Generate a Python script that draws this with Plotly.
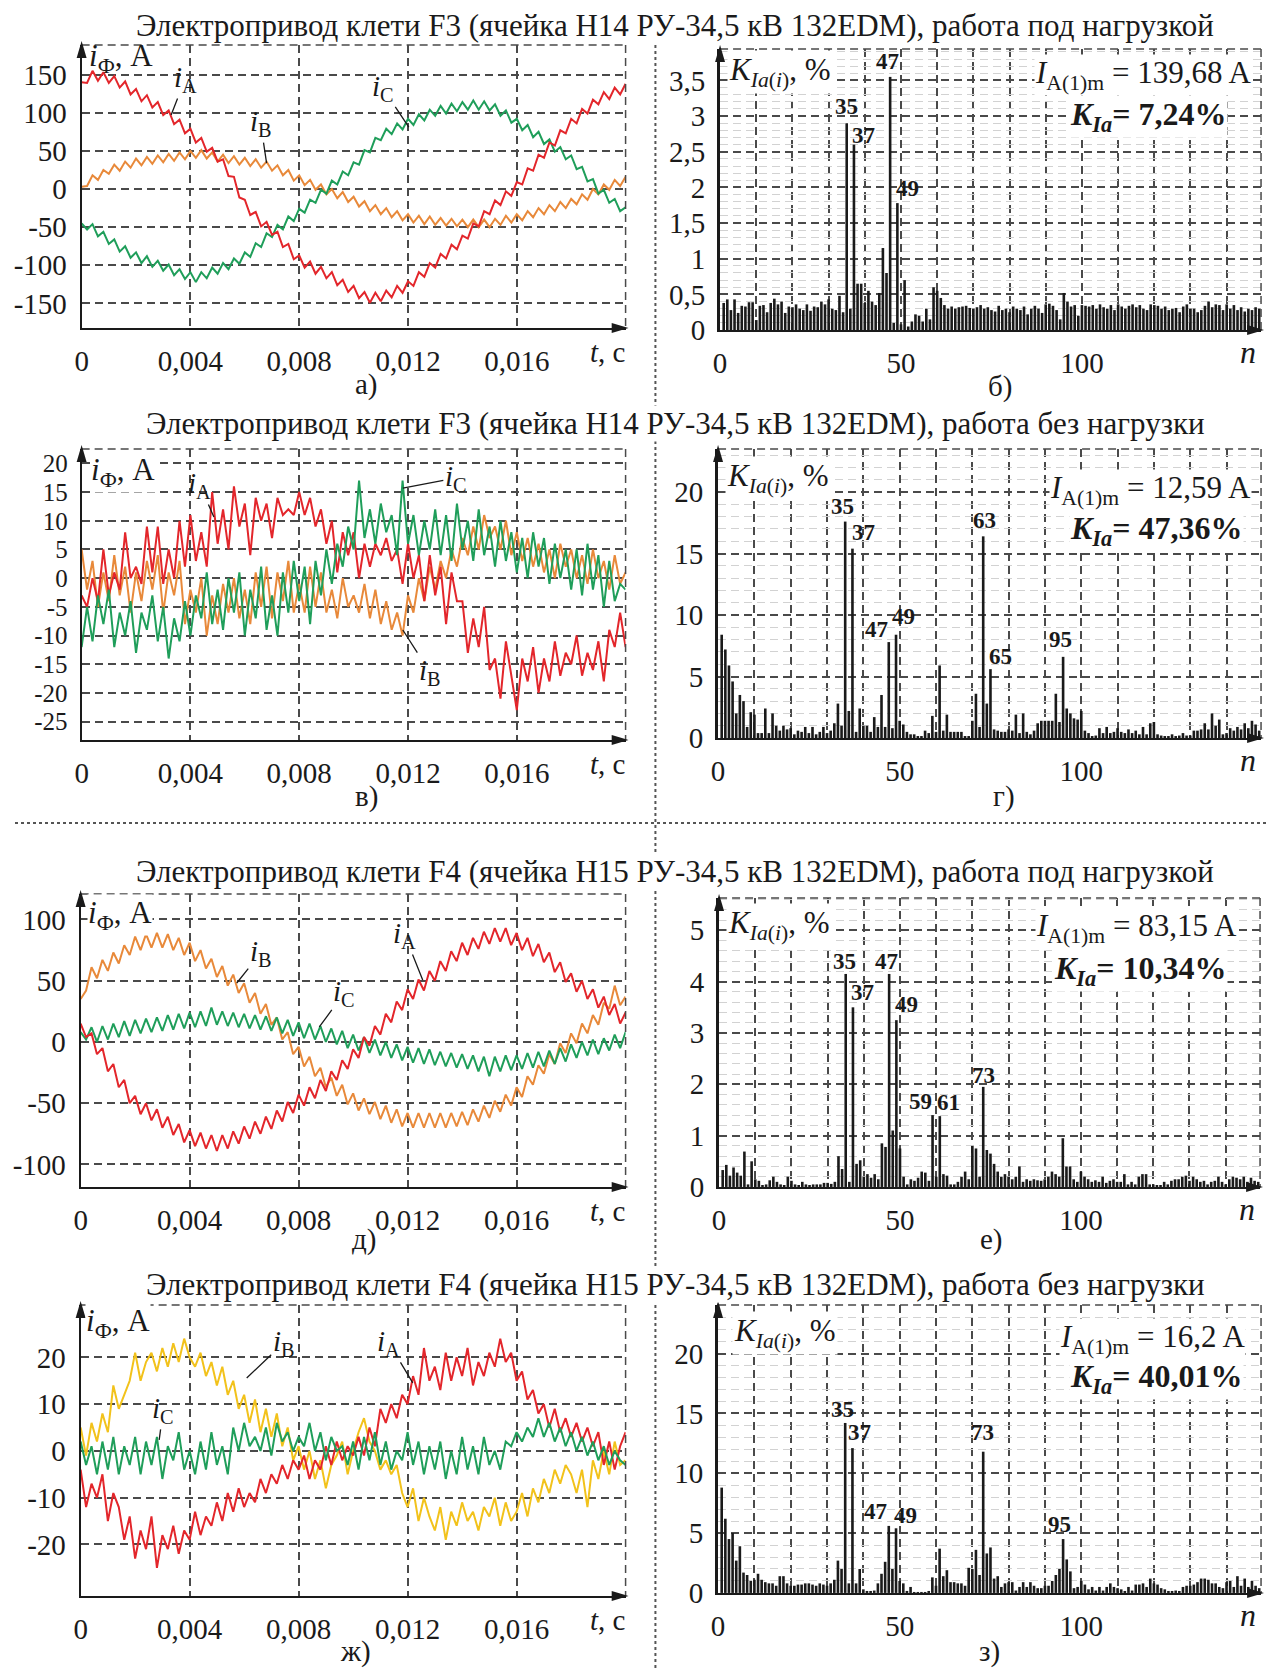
import plotly.graph_objects as go

# Layout pixels below are in the reference picture's coordinates (1276x1670).
# The browser's default 8px body margin surrounds the figure; the captured page
# comes out about 1% shorter vertically, so vertical positions are pre-stretched.
PAGE_MARGIN = 8
SY = 1686 / 1670
W = 1276 - 2 * PAGE_MARGIN
H = 1670
FONT = "Liberation Serif"
INK = "#1a1a1a"
GRID = "#4a4a4a"
DASH = "8px,5px"
RED, ORANGE, GREEN, YELLOW = "#e3262b", "#e8893a", "#1f9e5a", "#f2c21b"


def px(x):
    return (x - PAGE_MARGIN) / W


def py(y):
    return 1 - (y * SY - PAGE_MARGIN) / H


# ---------------- data ----------------
T_STEP = 0.0002
t = [round(k * T_STEP, 4) for k in range(101)]
n_harm = list(range(1, 150))

# а) F3, load
iA_a = [140, 139, 155, 142, 153, 139, 148, 133, 141, 124, 131, 115, 123, 107, 114, 97, 103, 85, 91, 73,
        79, 61, 67, 49, 54, 36, 39, 17, 16, -11, -14, -34, -30, -49, -43, -60, -56, -76, -72, -92,
        -87, -103, -95, -111, -102, -117, -109, -126, -119, -135, -127, -143, -135, -149, -136, -147, -133, -142, -127, -136,
        -121, -127, -109, -115, -97, -103, -85, -91, -73, -79, -61, -65, -45, -49, -29, -33, -15, -21, -3, -9,
        9, 6, 27, 24, 45, 41, 61, 57, 77, 73, 92, 86, 105, 99, 117, 111, 127, 118, 133, 124, 138]
iB_a = [3, 4, 18, 12, 25, 20, 32, 24, 36, 28, 40, 31, 42, 33, 44, 35, 46, 37, 48, 39,
        50, 41, 51, 40, 48, 36, 45, 34, 43, 32, 41, 30, 39, 28, 36, 24, 31, 18, 25, 11,
        18, 5, 12, -1, 6, -7, 0, -12, -4, -17, -10, -23, -16, -29, -21, -33, -25, -37, -29, -41,
        -33, -44, -35, -46, -36, -47, -38, -48, -39, -49, -40, -50, -40, -50, -40, -50, -39, -47, -35, -44,
        -33, -41, -29, -37, -25, -33, -21, -29, -17, -25, -13, -20, -7, -14, 0, -7, 6, -1, 12, 4, 16]
iC_a = [-45, -53, -46, -62, -56, -72, -66, -82, -75, -90, -83, -97, -88, -102, -94, -107, -99, -113, -105, -118,
        -109, -122, -109, -117, -103, -111, -97, -105, -91, -98, -83, -89, -71, -76, -58, -63, -47, -53, -36, -42,
        -26, -31, -14, -18, -1, -6, 11, 6, 23, 18, 35, 32, 51, 48, 67, 64, 79, 72, 86, 78,
        92, 84, 98, 90, 104, 96, 109, 99, 112, 102, 114, 104, 116, 104, 115, 103, 111, 96, 103, 87,
        92, 77, 84, 68, 75, 59, 65, 49, 55, 39, 44, 26, 29, 10, 13, -6, -1, -18, -13, -29, -24]

# в) F3, no load
iA_v = [-3, -5, 0, -4, 5, -3, 1, -2, 8, 0, 2, -1, 9, 1, 9, -1, 5, 0, 10, 2,
        11, 3, 8, 2, 15, 6, 12, 5, 16, 9, 13, 4, 14, 10, 13, 7, 14, 11, 12, 11,
        15, 11, 14, 9, 12, 6, 10, 1, 8, 4, 8, 0, 6, 2, 6, 4, 7, 3, 5, -1,
        6, 0, 4, -4, 4, -3, 2, -8, 1, -4, -4, -13, -7, -12, -5, -16, -14, -21, -11, -17,
        -23, -14, -18, -12, -20, -14, -18, -11, -17, -13, -15, -10, -17, -13, -16, -11, -18, -9, -12, -6, -12]
iB_v = [5, -2, 3, -5, 1, -4, 4, -3, 2, -6, 1, -4, 3, -2, 4, -6, 1, -3, 3, -8,
        -2, -6, 0, -10, -3, -8, -1, -6, 0, -7, -2, -8, 1, -5, 2, -7, 1, -4, 3, -6,
        -1, -6, 2, -5, 1, -6, -2, -7, 0, -5, -3, -6, -1, -7, -2, -8, -4, -9, -6, -10,
        -3, -6, 0, -4, 2, -2, 3, 0, 5, 2, 7, 4, 9, 5, 11, 7, 9, 5, 10, 4,
        8, 3, 7, 2, 6, 1, 5, 0, 6, 2, 5, 0, 4, -1, 5, 0, 3, -2, 4, -1, 1]
iC_v = [-12, -5, -11, -3, -8, -2, -12, -6, -10, -4, -13, -6, -9, -3, -11, -5, -14, -7, -11, -4,
        -10, -3, -7, 1, -8, -2, -9, 0, -6, 1, -10, -2, -7, 2, -9, -3, -10, 1, -6, 3,
        -4, 2, -8, 3, -3, 5, -1, 6, 2, 9, 5, 17, 7, 12, 6, 13, 8, 11, 4, 17,
        6, 11, 4, 10, 5, 12, 4, 11, 3, 13, 5, 10, 3, 12, 4, 9, 2, 10, 3, 8,
        1, 7, 0, 8, 2, 7, -1, 6, 0, 5, -2, 5, -3, 6, -2, 4, -5, 3, -4, -1, -2]

# д) F4, load
iA_d = [15, 4, 7, -10, -5, -24, -18, -37, -31, -50, -44, -59, -50, -64, -55, -70, -61, -76, -67, -82,
        -72, -85, -74, -87, -76, -89, -76, -87, -73, -83, -69, -79, -65, -75, -61, -71, -56, -65, -49, -58,
        -43, -52, -37, -46, -31, -40, -24, -31, -15, -22, -6, -13, 4, -3, 13, 6, 23, 16, 33, 26,
        43, 35, 51, 42, 58, 50, 66, 58, 74, 66, 81, 71, 85, 76, 90, 80, 93, 82, 93, 79,
        89, 75, 85, 70, 80, 65, 73, 57, 65, 49, 56, 41, 50, 35, 43, 28, 37, 22, 31, 15, 24]
iB_d = [35, 42, 61, 52, 67, 58, 73, 64, 79, 71, 86, 75, 88, 77, 89, 77, 88, 75, 85, 71,
        81, 66, 75, 60, 68, 53, 62, 46, 55, 40, 48, 32, 40, 23, 31, 14, 20, 2, 8, -10,
        -4, -20, -12, -28, -21, -37, -29, -44, -35, -51, -42, -56, -46, -59, -49, -63, -52, -66, -55, -69,
        -58, -70, -58, -70, -58, -70, -58, -70, -58, -69, -57, -68, -55, -65, -52, -62, -48, -57, -43, -52,
        -37, -45, -28, -35, -19, -26, -10, -18, -1, -9, 7, -1, 15, 7, 22, 14, 32, 27, 46, 30, 37]
iC_d = [8, 2, 12, 0, 13, 2, 15, 4, 17, 5, 18, 7, 19, 8, 20, 9, 22, 10, 23, 11,
        24, 12, 25, 13, 28, 14, 25, 13, 24, 12, 23, 11, 22, 10, 21, 9, 20, 7, 18, 5,
        16, 3, 15, 2, 13, 0, 11, -2, 9, -5, 6, -7, 4, -9, 2, -11, 0, -13, -2, -15,
        -4, -17, -5, -18, -6, -19, -8, -20, -9, -21, -10, -22, -11, -24, -12, -28, -12, -24, -11, -23,
        -11, -22, -9, -21, -8, -20, -7, -18, -5, -16, -2, -13, 0, -11, 2, -10, 3, -7, 6, -5, 8]

# ж) F4, no load
iA_zh = [-4, -12, -7, -10, -5, -15, -9, -12, -19, -14, -23, -17, -21, -14, -25, -18, -21, -16, -22, -17,
         -19, -13, -18, -14, -16, -11, -15, -9, -13, -8, -12, -9, -11, -6, -9, -5, -7, -3, -6, -2,
         -4, -1, -6, -2, -4, 1, -3, 2, -2, 1, -1, 3, -1, 5, 1, 9, 6, 10, 7, 12,
         10, 16, 12, 22, 15, 18, 13, 21, 15, 20, 16, 22, 14, 19, 16, 21, 18, 24, 19, 21,
         15, 17, 11, 13, 8, 10, 5, 9, 4, 7, 3, 6, 2, 5, 1, 4, -3, 2, -4, 1, 4]
iB_zh = [5, -1, 6, 2, 8, 4, 14, 9, 12, 15, 21, 15, 19, 21, 17, 22, 18, 23, 19, 24,
         20, 18, 21, 16, 19, 14, 18, 12, 15, 9, 12, 6, 11, 4, 9, 3, 8, 1, 5, -2,
         1, -4, 0, -6, -2, -8, -3, -1, 2, -5, 0, 4, 7, 2, 0, -4, -2, -5, -3, -9,
         -12, -8, -15, -10, -14, -17, -12, -19, -13, -16, -11, -15, -13, -17, -12, -14, -10, -16, -11, -15,
         -13, -9, -14, -8, -11, -6, -9, -4, -7, -3, -5, -9, -4, -12, -2, -6, 0, -5, 2, -3, -2]
iC_zh = [2, -3, 1, -5, 2, -4, 3, -5, 1, -3, 3, -5, 2, -3, 3, -6, 1, -2, 4, -4,
         0, -5, 2, -4, 4, -3, 1, -5, 5, 0, 6, 1, 3, 0, 5, -1, 6, 2, 4, 0,
         3, 1, 6, 0, 4, -2, 3, 0, 1, -3, 2, -4, 3, -2, 4, -3, 2, -4, 0, -2,
         4, -3, 2, -5, 1, -4, 2, -6, 0, -5, 3, -4, 1, -5, 3, -3, 0, -4, 2, 1,
         4, 2, 5, 3, 7, 3, 6, 2, 5, 1, 4, 0, 3, -1, 2, -2, 1, -3, 0, -2, -3]

# spectra K_Ia(n), %, n = 1..149
K_b = [0.38, 0.43, 0.28, 0.43, 0.24, 0.34, 0.33, 0.39, 0.39, 0.14,
       0.34, 0.35, 0.25, 0.38, 0.44, 0.36, 0.40, 0.24, 0.33, 0.32,
       0.36, 0.30, 0.28, 0.36, 0.27, 0.33, 0.32, 0.40, 0.36, 0.43,
       0.30, 0.28, 0.48, 0.25, 2.90, 0.30, 2.60, 0.65, 0.65, 0.38,
       0.55, 0.40, 0.35, 0.52, 1.15, 0.80, 3.55, 0.10, 1.78, 0.08,
       0.70, 0.05, 0.12, 0.22, 0.20, 0.12, 0.30, 0.15, 0.60, 0.55,
       0.45, 0.35, 0.30, 0.33, 0.30, 0.32, 0.33, 0.34, 0.31, 0.30,
       0.32, 0.35, 0.30, 0.32, 0.28, 0.26, 0.34, 0.28, 0.30, 0.25,
       0.33, 0.30, 0.28, 0.33, 0.22, 0.30, 0.34, 0.30, 0.24, 0.36,
       0.37, 0.34, 0.28, 0.15, 0.52, 0.40, 0.33, 0.35, 0.20, 0.35,
       0.34, 0.33, 0.35, 0.30, 0.36, 0.32, 0.30, 0.35, 0.28, 0.36,
       0.33, 0.30, 0.34, 0.36, 0.32, 0.35, 0.30, 0.28, 0.36, 0.35,
       0.34, 0.30, 0.33, 0.28, 0.30, 0.31, 0.25, 0.33, 0.36, 0.30,
       0.30, 0.25, 0.28, 0.34, 0.40, 0.32, 0.36, 0.35, 0.28, 0.36,
       0.30, 0.35, 0.28, 0.32, 0.26, 0.30, 0.28, 0.32, 0.30]
K_g = [8.4, 7.2, 5.9, 4.6, 2.0, 3.5, 3.0, 0.9, 2.1, 1.9,
       0.4, 0.4, 2.4, 0.4, 2.0, 1.0, 0.6, 1.0, 0.7, 0.8,
       0.3, 0.6, 0.5, 0.9, 0.4, 0.9, 0.3, 0.5, 0.9, 0.4,
       0.6, 1.2, 2.8, 1.0, 17.6, 2.2, 15.4, 0.5, 2.4, 1.0,
       1.0, 0.5, 1.7, 0.9, 3.5, 0.9, 7.8, 0.8, 8.4, 1.4,
       1.1, 0.5, 0.3, 0.3, 0.1, 0.1, 0.6, 0.4, 1.8, 0.5,
       5.9, 0.6, 1.9, 0.5, 0.5, 0.5, 0.5, 0.1, 0.1, 1.4,
       3.6, 0.9, 16.4, 2.8, 5.6, 0.7, 0.6, 0.5, 0.5, 0.7,
       0.6, 1.9, 0.4, 2.0, 0.5, 0.3, 0.6, 1.2, 1.4, 1.4,
       1.4, 1.4, 3.6, 1.3, 6.6, 2.4, 2.0, 1.6, 1.5, 2.2,
       0.6, 0.4, 0.1, 0.2, 0.8, 0.4, 0.9, 0.4, 0.5, 0.8,
       0.5, 0.4, 0.7, 0.4, 0.6, 0.3, 0.9, 0.3, 1.2, 1.3,
       0.3, 0.2, 0.1, 0.1, 0.3, 0.1, 0.2, 0.4, 0.2, 0.2,
       0.6, 0.6, 0.7, 1.2, 0.7, 2.0, 1.0, 1.5, 0.3, 0.4,
       0.8, 0.6, 0.9, 0.7, 1.2, 0.8, 1.4, 1.1, 0.6]
K_e = [0.33, 0.43, 0.22, 0.38, 0.28, 0.22, 0.69, 0.05, 0.50, 0.15,
       0.12, 0.03, 0.05, 0.13, 0.20, 0.10, 0.05, 0.03, 0.20, 0.12,
       0.05, 0.02, 0.10, 0.05, 0.03, 0.05, 0.05, 0.05, 0.08, 0.08,
       0.06, 0.10, 0.60, 0.35, 4.15, 0.10, 3.50, 0.45, 0.52, 0.20,
       0.25, 0.18, 0.25, 0.15, 0.85, 0.78, 4.15, 1.10, 3.25, 0.75,
       0.20, 0.05, 0.15, 0.12, 0.18, 0.30, 0.28, 0.12, 1.40, 0.20,
       1.38, 0.25, 0.22, 0.05, 0.05, 0.10, 0.20, 0.30, 0.15, 0.80,
       0.75, 0.20, 1.95, 0.72, 0.65, 0.45, 0.30, 0.20, 0.25, 0.20,
       0.15, 0.20, 0.40, 0.10, 0.15, 0.12, 0.15, 0.13, 0.12, 0.15,
       0.20, 0.30, 0.25, 0.20, 0.95, 0.40, 0.40, 0.15, 0.10, 0.30,
       0.20, 0.15, 0.10, 0.13, 0.10, 0.20, 0.08, 0.12, 0.15, 0.10,
       0.10, 0.25, 0.05, 0.10, 0.05, 0.20, 0.25, 0.25, 0.05, 0.05,
       0.03, 0.02, 0.10, 0.05, 0.12, 0.15, 0.15, 0.20, 0.22, 0.12,
       0.20, 0.15, 0.10, 0.12, 0.05, 0.10, 0.12, 0.20, 0.10, 0.05,
       0.15, 0.20, 0.18, 0.15, 0.20, 0.10, 0.18, 0.12, 0.10]
K_z = [8.8, 6.2, 4.5, 5.0, 2.7, 3.9, 1.7, 1.5, 1.0, 1.1,
       1.6, 1.1, 0.9, 0.8, 0.8, 0.6, 1.4, 1.4, 0.8, 0.6,
       0.6, 0.7, 0.7, 0.8, 0.8, 0.7, 0.6, 0.8, 0.7, 0.6,
       0.8, 1.1, 2.7, 2.0, 14.2, 0.8, 12.1, 0.8, 2.0, 0.3,
       0.1, 0.1, 0.2, 0.8, 1.6, 2.6, 5.6, 2.0, 5.4, 1.0,
       0.8, 0.1, 0.5, 0.05, 0.05, 0.05, 0.05, 0.1, 1.3, 0.6,
       3.7, 1.4, 1.9, 0.9, 0.9, 0.8, 0.8, 0.6, 2.1, 2.0,
       3.6, 1.5, 11.8, 3.3, 3.8, 1.2, 1.4, 0.5, 0.8, 0.9,
       0.9, 0.2, 0.5, 0.9, 0.5, 0.9, 0.6, 0.4, 0.4, 0.6,
       0.6, 1.0, 1.5, 2.0, 4.5, 2.8, 1.8, 0.4, 0.5, 1.0,
       0.7, 0.3, 0.5, 0.2, 0.5, 0.2, 0.5, 0.8, 0.5, 0.4,
       0.3, 0.1, 0.5, 0.2, 0.7, 0.7, 0.8, 0.5, 1.2, 0.8,
       0.7, 0.4, 0.3, 0.1, 0.1, 0.2, 0.1, 0.5, 0.6, 0.6,
       0.7, 0.9, 1.2, 1.2, 1.1, 0.8, 0.8, 0.5, 0.4, 0.9,
       1.0, 0.5, 1.4, 0.6, 1.2, 0.5, 1.0, 0.6, 0.4]

# tick labels
T_TICKS = [0, 0.004, 0.008, 0.012, 0.016]
T_TEXT = ["0", "0,004", "0,008", "0,012", "0,016"]
N_TICKS = [0, 50, 100]
N_TEXT = ["0", "50", "100"]

TITLES = [
    "Электропривод клети F3 (ячейка H14 РУ-34,5 кВ 132EDM), работа под нагрузкой",
    "Электропривод клети F3 (ячейка H14 РУ-34,5 кВ 132EDM), работа без нагрузки",
    "Электропривод клети F4 (ячейка H15 РУ-34,5 кВ 132EDM), работа под нагрузкой",
    "Электропривод клети F4 (ячейка H15 РУ-34,5 кВ 132EDM), работа без нагрузки",
]

# ---------------- panel geometry (reference pixels: left, right, top, bottom) ----------------
GEOM = {
    1: (75, 622, 45, 328), 2: (717, 1261, 49, 330),
    3: (75, 622, 449, 740), 4: (715, 1261, 449, 738),
    5: (74, 622, 894, 1187), 6: (716, 1260, 898, 1187),
    7: (74, 622, 1305, 1596), 8: (715, 1261, 1305, 1593),
}
TICK_SIZE = 29
TEXT_SIZE = 31

fig = go.Figure()
grid_kw = dict(showgrid=True, gridcolor=GRID, gridwidth=1.5, griddash=DASH)


def sfx(i):
    return "" if i == 1 else str(i)


def tfont(size=TICK_SIZE):
    return dict(family=FONT, size=size, color=INK)


def add_time_panel(i, yrange, yvals, ytext, series, ysize=TICK_SIZE):
    L, R, T, B = GEOM[i]
    fig.layout["xaxis" + sfx(i)] = dict(
        domain=[px(L), px(R)], range=[0, 0.02], anchor="y" + sfx(i),
        tickmode="array", tickvals=T_TICKS, ticktext=T_TEXT, **grid_kw,
        showline=True, linecolor=INK, linewidth=2, zeroline=False, ticks="",
        tickfont=tfont(), ticklabelstandoff=6)
    fig.layout["yaxis" + sfx(i)] = dict(
        domain=[py(B), py(T)], range=yrange, anchor="x" + sfx(i),
        tickmode="array", tickvals=yvals, ticktext=ytext, **grid_kw,
        showline=True, linecolor=INK, linewidth=2, zeroline=False, ticks="",
        tickfont=tfont(ysize), ticklabelstandoff=7)
    for ys, col in series:
        fig.add_trace(go.Scatter(x=t, y=ys, mode="lines", line=dict(color=col, width=2),
                                 xaxis="x" + sfx(i), yaxis="y" + sfx(i), hoverinfo="skip"))


def add_spec_panel(i, yrange, yvals, ytext, minor_step, values):
    L, R, T, B = GEOM[i]
    fig.layout["xaxis" + sfx(i)] = dict(
        domain=[px(L), px(R)], range=[0, 149.5], anchor="y" + sfx(i),
        tickmode="array", tickvals=N_TICKS, ticktext=N_TEXT, **grid_kw,
        minor=dict(tickmode="linear", tick0=0, dtick=10, showgrid=True, gridcolor=GRID,
                   gridwidth=1.5, griddash=DASH, ticks=""),
        showline=True, linecolor=INK, linewidth=2, zeroline=False, ticks="",
        tickfont=tfont(), ticklabelstandoff=6)
    fig.layout["yaxis" + sfx(i)] = dict(
        domain=[py(B), py(T)], range=yrange, anchor="x" + sfx(i),
        tickmode="array", tickvals=yvals, ticktext=ytext, **grid_kw,
        minor=dict(tickmode="linear", tick0=0, dtick=minor_step, showgrid=True,
                   gridcolor="#d2d2d2", gridwidth=1, ticks=""),
        showline=True, linecolor=INK, linewidth=3, zeroline=False, ticks="",
        tickfont=tfont(), ticklabelstandoff=6)
    fig.add_trace(go.Bar(x=n_harm, y=values, width=0.72, marker=dict(color=INK, line_width=0),
                         xaxis="x" + sfx(i), yaxis="y" + sfx(i), hoverinfo="skip"))


add_time_panel(1, [-182.2, 188.7], [-150, -100, -50, 0, 50, 100, 150],
               ["-150", "-100", "-50", "0", "50", "100", "150"],
               [(iB_a, ORANGE), (iC_a, GREEN), (iA_a, RED)])
add_time_panel(3, [-28.2, 22.5], [-25, -20, -15, -10, -5, 0, 5, 10, 15, 20],
               ["-25", "-20", "-15", "-10", "-5", "0", "5", "10", "15", "20"],
               [(iB_v, ORANGE), (iA_v, RED), (iC_v, GREEN)], ysize=25)
add_time_panel(5, [-118.4, 120.8], [-100, -50, 0, 50, 100],
               ["-100", "-50", "0", "50", "100"],
               [(iB_d, ORANGE), (iC_d, GREEN), (iA_d, RED)])
add_time_panel(7, [-31.0, 31.2], [-20, -10, 0, 10, 20],
               ["-20", "-10", "0", "10", "20"],
               [(iB_zh, YELLOW), (iA_zh, RED), (iC_zh, GREEN)])

add_spec_panel(2, [0, 3.94], [0, 0.5, 1, 1.5, 2, 2.5, 3, 3.5],
               ["0", "0,5", "1", "1,5", "2", "2,5", "3", "3,5"], 0.1, K_b)
add_spec_panel(4, [0, 23.5], [0, 5, 10, 15, 20], ["0", "5", "10", "15", "20"], 1, K_g)
add_spec_panel(6, [0, 5.63], [0, 1, 2, 3, 4, 5], ["0", "1", "2", "3", "4", "5"], 0.2, K_e)
add_spec_panel(8, [0, 24.06], [0, 5, 10, 15, 20], ["0", "5", "10", "15", "20"], 1, K_z)

shapes = []
annotations = []

# borders, arrows, axis name labels
for i, (L, R, T, B) in GEOM.items():
    dash_line = dict(color=GRID, width=1.5, dash=DASH)
    shapes.append(dict(type="line", xref="paper", yref="paper", x0=px(L), x1=px(R), y0=py(T), y1=py(T), line=dash_line))
    shapes.append(dict(type="line", xref="paper", yref="paper", x0=px(R), x1=px(R), y0=py(T), y1=py(B), line=dash_line))
    up = f"M {px(L)},{py(T - 4)} L {px(L - 5)},{py(T + 13)} L {px(L + 5)},{py(T + 13)} Z"
    right = f"M {px(R + 3)},{py(B)} L {px(R - 14)},{py(B - 5)} L {px(R - 14)},{py(B + 5)} Z"
    for path in (up, right):
        shapes.append(dict(type="path", xref="paper", yref="paper", path=path,
                           fillcolor=INK, line=dict(width=0)))
    if i % 2 == 1:
        annotations.append(dict(x=px(R - 18), y=py(B + 24), xref="paper", yref="paper", showarrow=False,
                                text="<i>t</i>, с", font=tfont(), xanchor="center", yanchor="middle"))
    else:
        annotations.append(dict(x=px(R - 13), y=py(B + 22), xref="paper", yref="paper", showarrow=False,
                                text="<i>n</i>", font=tfont(32), xanchor="center", yanchor="middle"))

# separators
shapes.append(dict(type="line", xref="paper", yref="paper", x0=px(652), x1=px(652), y0=py(45), y1=py(1668),
                   line=dict(color="#555555", width=2, dash="dot")))
shapes.append(dict(type="line", xref="paper", yref="paper", x0=px(8), x1=px(1268), y0=py(823), y1=py(823),
                   line=dict(color="#555555", width=2, dash="dot")))

# titles
for txt, yc in zip(TITLES, [25, 423, 872, 1285]):
    annotations.append(dict(x=px(672), y=py(yc), xref="paper", yref="paper", showarrow=False, text=txt,
                            font=tfont(TEXT_SIZE), bgcolor="white", borderpad=0,
                            xanchor="center", yanchor="middle"))

# sub-figure letters
for txt, (xc, yc) in zip(["а)", "б)", "в)", "г)", "д)", "е)", "ж)", "з)"],
                         [(361, 384), (999, 386), (361, 796), (1003, 796),
                          (359, 1240), (990, 1240), (350, 1652), (988, 1652)]):
    annotations.append(dict(x=px(xc), y=py(yc), xref="paper", yref="paper", showarrow=False, text=txt,
                            font=tfont(), xanchor="center", yanchor="middle"))

# y-axis names (white backing only where no curve passes beneath)
for (xl, yc, bg) in [(81, 58, "rgba(0,0,0,0)"), (83, 472, "white"), (80, 915, "white"), (78, 1323, "white")]:
    annotations.append(dict(x=px(xl), y=py(yc), xref="paper", yref="paper", showarrow=False,
                            text="<i>i</i><sub>Ф</sub>, A", font=tfont(TEXT_SIZE),
                            xanchor="left", yanchor="middle", bgcolor=bg, borderpad=0))
for (xl, yc) in [(724, 72), (722, 478), (723, 925), (729, 1333)]:
    annotations.append(dict(x=px(xl), y=py(yc), xref="paper", yref="paper", showarrow=False,
                            text="<i>K</i><sub><i>Ia</i>(<i>i</i>)</sub>, %", font=tfont(TEXT_SIZE),
                            xanchor="left", yanchor="middle", bgcolor="white"))

# spectrum info texts: (amplitude, distortion, y1, y2, x_right1, x_right2)
INFO = [("139,68", "7,24", 75, 116, 1252, 1228), ("12,59", "47,36", 490, 530, 1252, 1244),
        ("83,15", "10,34", 928, 971, 1238, 1228), ("16,2", "40,01", 1339, 1379, 1246, 1244)]
for amp, thd, y1, y2, xr1, xr2 in INFO:
    annotations.append(dict(x=px(xr2), y=py(y2), xref="paper", yref="paper", showarrow=False,
                            text=f"<b><i>K</i><sub><i>Ia</i></sub>= {thd}%</b>", font=tfont(32),
                            xanchor="right", yanchor="middle", bgcolor="white", borderpad=0))
    annotations.append(dict(x=px(xr1), y=py(y1), xref="paper", yref="paper", showarrow=False,
                            text=f"<i>I</i><sub>A(1)m</sub> = {amp} A", font=tfont(TEXT_SIZE),
                            xanchor="right", yanchor="middle", bgcolor="white", borderpad=0))

# harmonic labels (text, n, K) per spectrum panel
PEAKS = {
    2: [("35", 35, 3.13), ("37", 39.7, 2.73), ("47", 46.3, 3.76), ("49", 51.7, 1.99)],
    4: [("35", 34.3, 18.8), ("37", 40, 16.7), ("63", 73.3, 17.7), ("47", 43.7, 8.8),
        ("49", 51, 9.9), ("65", 77.7, 6.6), ("95", 94.3, 8.0)],
    6: [("35", 34.7, 4.39), ("37", 39.7, 3.78), ("47", 46.3, 4.39), ("49", 51.7, 3.55),
        ("59", 55.7, 1.66), ("61", 63.3, 1.64), ("73", 73, 2.18)],
    8: [("35", 34.3, 15.3), ("37", 39, 13.4), ("73", 72.7, 13.4), ("47", 43.3, 6.8),
        ("49", 51.7, 6.5), ("95", 94, 5.7)],
}
for i, lst in PEAKS.items():
    for txt, xn, yv in lst:
        annotations.append(dict(x=xn, y=yv, xref="x" + sfx(i), yref="y" + sfx(i), showarrow=False,
                                text=f"<b>{txt}</b>", font=tfont(23),
                                xanchor="center", yanchor="middle"))

# phase current labels with leader lines: (text, tip_x, tip_y, dx, dy)
PHASE_LABELS = [
    ("A", 165, 115, 14, -36), ("B", 261, 163, -6, -40), ("C", 404, 127, -26, -39),
    ("A", 208, 517, -14, -32), ("C", 398, 488, 53, -10), ("B", 398, 630, 27, 42),
    ("B", 231, 983, 24, -30), ("C", 314, 1027, 25, -34), ("A", 418, 980, -18, -45),
    ("B", 241, 1378, 37, -35), ("A", 408, 1383, -24, -40), ("C", 153, 1440, 4, -30),
]
for ph, tx, ty, dx, dy in PHASE_LABELS:
    annotations.append(dict(x=px(tx), y=py(ty), xref="paper", yref="paper", showarrow=True,
                            ax=dx, ay=dy, arrowhead=0, arrowwidth=1.3, arrowcolor=INK,
                            text=f"<i>i</i><sub>{ph}</sub>", font=tfont(29)))

fig.update_layout(
    width=W, height=H, margin=dict(l=0, r=0, t=0, b=0),
    paper_bgcolor="white", plot_bgcolor="white", showlegend=False,
    shapes=shapes, annotations=annotations, font=dict(family=FONT, color=INK),
)

fig.write_html("out.html", config={"displayModeBar": False})
